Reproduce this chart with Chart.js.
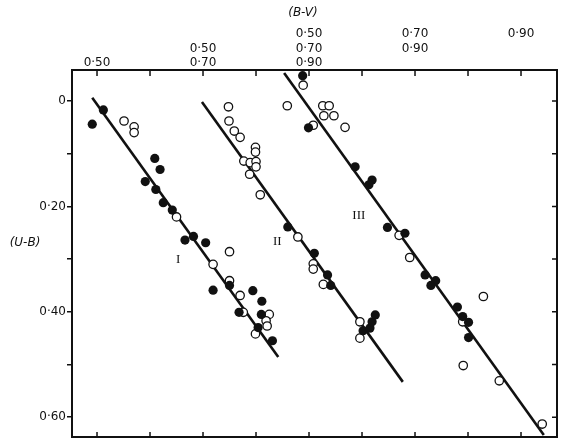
<!DOCTYPE html>
<html>
<head>
<meta charset="utf-8">
<script src="https://cdn.jsdelivr.net/npm/chart.js@4.4.1/dist/chart.umd.min.js"></script>
<style>
  html, body { margin: 0; padding: 0; background: #fff; }
  canvas { display: block; }
</style>
</head>
<body>
<canvas id="chart" width="570" height="446"></canvas>
<script>
// (B-V, U-B) pairs. Each group has its own B-V scale,
// shifted along the top axis by groupOffset.
const groupOffset = { I: 0, II: 0.2, III: 0.4 }

const groupI_filled = [
  [0.491, 0.044], [0.512, 0.017], [0.609, 0.109], [0.619, 0.130], [0.591, 0.153],
  [0.611, 0.168], [0.625, 0.193], [0.642, 0.207], [0.666, 0.264], [0.682, 0.257],
  [0.705, 0.269], [0.750, 0.350], [0.719, 0.359], [0.794, 0.360], [0.811, 0.380],
  [0.768, 0.401], [0.810, 0.405], [0.804, 0.430], [0.831, 0.455]
]
const groupI_open = [
  [0.551, 0.038], [0.570, 0.049], [0.570, 0.060], [0.650, 0.220], [0.719, 0.310],
  [0.750, 0.286], [0.750, 0.341], [0.770, 0.369], [0.776, 0.401], [0.825, 0.405],
  [0.819, 0.417], [0.821, 0.427], [0.799, 0.442]
]
const groupII_filled = [
  [0.660, 0.239], [0.710, 0.289], [0.735, 0.330], [0.741, 0.350], [0.802, 0.436],
  [0.815, 0.431], [0.819, 0.419], [0.825, 0.406]
]
const groupII_open = [
  [0.548, 0.011], [0.549, 0.038], [0.559, 0.057], [0.570, 0.069], [0.599, 0.088],
  [0.599, 0.097], [0.577, 0.114], [0.589, 0.117], [0.600, 0.115], [0.600, 0.125],
  [0.588, 0.139], [0.608, 0.178], [0.679, 0.258], [0.708, 0.309], [0.708, 0.319],
  [0.727, 0.348], [0.796, 0.419], [0.796, 0.450]
]
const groupIII_filled = [
  [0.488, -0.048], [0.499, 0.051], [0.587, 0.125], [0.619, 0.150], [0.613, 0.159],
  [0.648, 0.240], [0.681, 0.251], [0.719, 0.330], [0.739, 0.341], [0.730, 0.350],
  [0.780, 0.391], [0.790, 0.409], [0.801, 0.420], [0.801, 0.449]
]
const groupIII_open = [
  [0.489, -0.030], [0.459, 0.009], [0.526, 0.009], [0.538, 0.009], [0.528, 0.028],
  [0.547, 0.028], [0.508, 0.046], [0.568, 0.050], [0.670, 0.255], [0.690, 0.297],
  [0.829, 0.371], [0.790, 0.419], [0.791, 0.502], [0.859, 0.531], [0.940, 0.613]
]

// fitted lines, end points
const lineI = [[0.491, -0.006], [0.842, 0.486]]
const lineII = [[0.498, 0.002], [0.877, 0.533]]
const lineIII = [[0.453, -0.053], [0.943, 0.634]]

// axis ticks
const xTicks = [0.5, 0.6, 0.7, 0.8, 0.9, 1.0, 1.1, 1.2, 1.3]
const bvTickLabels = [0.50, 0.70, 0.90]
const yTicks = [0, 0.1, 0.2, 0.3, 0.4, 0.5, 0.6]
const yTickLabels = [0, 0.2, 0.4, 0.6]

// where the group numerals sit, in group I (B-V), (U-B)
const numeralAt = { I: [0.653, 0.300], II: [0.840, 0.266], III: [0.994, 0.218] }

const fmt = v => v === 0 ? '0' : v.toFixed(2).replace('.', '\u00b7')
const near = (a, b) => Math.abs(a - b) < 1e-6

function toPoints(pairs, offset) {
  return pairs.map(p => ({ x: p[0] + offset, y: p[1] }))
}

function filledSet(pairs, offset) {
  return {
    data: toPoints(pairs, offset),
    pointRadius: 4.6,
    pointBackgroundColor: '#111',
    pointBorderWidth: 0,
    showLine: false,
    order: 1
  }
}

function openSet(pairs, offset) {
  return {
    data: toPoints(pairs, offset),
    pointRadius: 4.2,
    pointBackgroundColor: '#fff',
    pointBorderColor: '#111',
    pointBorderWidth: 1.3,
    showLine: false,
    order: 1
  }
}

function lineSet(pairs, offset) {
  return {
    data: toPoints(pairs, offset),
    showLine: true,
    borderColor: '#111',
    borderWidth: 2.6,
    pointRadius: 0,
    order: 2
  }
}

const framePlugin = {
  id: 'frame',
  beforeDraw(chart) {
    const ctx = chart.ctx
    ctx.save()
    ctx.fillStyle = '#fff'
    ctx.fillRect(0, 0, chart.width, chart.height)
    ctx.restore()
  },
  afterDraw(chart) {
    const { ctx, chartArea: a, scales: { x, y } } = chart
    ctx.save()
    ctx.strokeStyle = '#111'
    ctx.lineWidth = 2
    ctx.strokeRect(a.left, a.top, a.right - a.left, a.bottom - a.top)

    // inward ticks on top, bottom and right
    ctx.lineWidth = 1.5
    ctx.beginPath()
    xTicks.forEach(v => {
      const px = x.getPixelForValue(v)
      ctx.moveTo(px, a.top)
      ctx.lineTo(px, a.top + 6)
      ctx.moveTo(px, a.bottom)
      ctx.lineTo(px, a.bottom - 5)
    })
    yTicks.forEach(v => {
      const py = y.getPixelForValue(v)
      ctx.moveTo(a.right, py)
      ctx.lineTo(a.right - 5, py)
    })
    ctx.stroke()

    ctx.fillStyle = '#111'
    ctx.textAlign = 'center'
    ctx.textBaseline = 'middle'
    ctx.font = 'italic 12px "DejaVu Sans"'
    ctx.fillText('(B-V)', 303, 13)
    ctx.fillText('(U-B)', 25, 243)

    ctx.font = '13px "Liberation Serif"'
    Object.keys(numeralAt).forEach(k => {
      const p = numeralAt[k]
      ctx.fillText(k, x.getPixelForValue(p[0]), y.getPixelForValue(p[1]))
    })
    ctx.restore()
  }
}

const tickFont = { family: 'DejaVu Sans', size: 12 }

new Chart(document.getElementById('chart'), {
  type: 'scatter',
  data: {
    datasets: [
      filledSet(groupI_filled, groupOffset.I),
      openSet(groupI_open, groupOffset.I),
      filledSet(groupII_filled, groupOffset.II),
      openSet(groupII_open, groupOffset.II),
      filledSet(groupIII_filled, groupOffset.III),
      openSet(groupIII_open, groupOffset.III),
      lineSet(lineI, groupOffset.I),
      lineSet(lineII, groupOffset.II),
      lineSet(lineIII, groupOffset.III)
    ]
  },
  options: {
    responsive: false,
    animation: false,
    layout: { padding: { top: 0, left: 0, right: 13, bottom: 9 } },
    plugins: {
      legend: { display: false },
      tooltip: { enabled: false }
    },
    scales: {
      x: {
        type: 'linear',
        position: 'top',
        min: 0.4528,
        max: 1.3679,
        afterBuildTicks: s => { s.ticks = xTicks.map(v => ({ value: v })) },
        afterFit: s => { s.height = 70 },
        grid: { display: false },
        border: { display: false },
        ticks: {
          autoSkip: false,
          maxRotation: 0,
          padding: -8,
          color: '#111',
          font: tickFont,
          // three rows: group III on top, then II, then I
          callback: v => ['III', 'II', 'I'].map(g => {
            const bv = v - groupOffset[g]
            return bvTickLabels.some(t => near(t, bv)) ? fmt(bv) : ''
          })
        }
      },
      y: {
        type: 'linear',
        reverse: true,
        min: -0.0588,
        max: 0.6376,
        afterBuildTicks: s => { s.ticks = yTicks.map(v => ({ value: v })) },
        afterFit: s => { s.width = 72 },
        grid: {
          drawOnChartArea: false,
          drawTicks: true,
          tickLength: 5,
          color: '#111',
          lineWidth: 1.5
        },
        border: { display: false },
        ticks: {
          padding: 1,
          color: '#111',
          font: tickFont,
          callback: v => yTickLabels.some(t => near(t, v)) ? fmt(v) : ''
        }
      }
    }
  },
  plugins: [framePlugin]
})
</script>
</body>
</html>
